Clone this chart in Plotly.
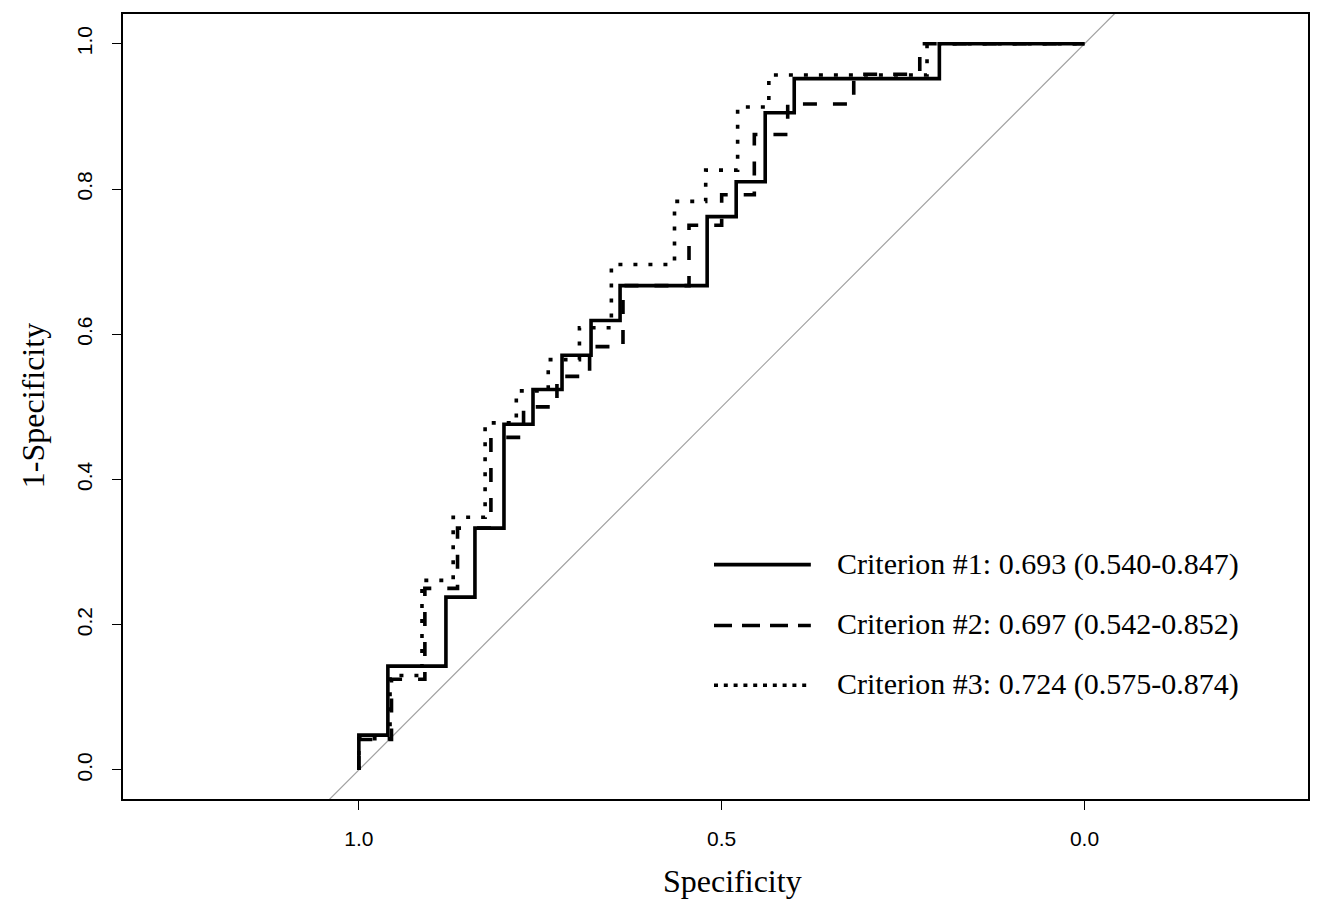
import plotly.graph_objects as go

# ROC step vertices (specificity, sensitivity)
spec_1 = [1.0, 1.0, 0.96, 0.88, 0.84, 0.80, 0.76, 0.72, 0.68, 0.64, 0.52, 0.48, 0.44, 0.40, 0.20, 0.0]
sens_1 = [0.0, 0.048, 0.143, 0.238, 0.333, 0.476, 0.524, 0.571, 0.619, 0.667, 0.762, 0.810, 0.905, 0.952, 1.0, 1.0]

spec_2 = [1.0, 1.0, 0.955, 0.909, 0.864, 0.818, 0.773, 0.727, 0.682, 0.636, 0.545, 0.500, 0.455, 0.409, 0.318, 0.227, 0.0]
sens_2 = [0.0, 0.042, 0.125, 0.250, 0.333, 0.458, 0.500, 0.542, 0.583, 0.667, 0.750, 0.792, 0.875, 0.917, 0.958, 1.0, 1.0]

spec_3 = [1.0, 1.0, 0.957, 0.913, 0.870, 0.826, 0.783, 0.739, 0.696, 0.652, 0.565, 0.522, 0.478, 0.435, 0.217, 0.0]
sens_3 = [0.0, 0.043, 0.130, 0.261, 0.348, 0.478, 0.522, 0.565, 0.609, 0.696, 0.783, 0.826, 0.913, 0.957, 1.0, 1.0]

legend_labels = [
    "Criterion #1: 0.693 (0.540-0.847)",
    "Criterion #2: 0.697 (0.542-0.852)",
    "Criterion #3: 0.724 (0.575-0.874)",
]

x_ticks = [1.0, 0.5, 0.0]
x_tick_text = ["1.0", "0.5", "0.0"]
y_ticks = [0.0, 0.2, 0.4, 0.6, 0.8, 1.0]
y_tick_text = ["0.0", "0.2", "0.4", "0.6", "0.8", "1.0"]

X_RANGE = [1.325, -0.308]
Y_RANGE = [-0.040, 1.041]

fig = go.Figure()

# chance diagonal (sensitivity = 1 - specificity), extended across the panel
diag_x = [X_RANGE[0] + 0.1, X_RANGE[1] - 0.1]
diag_y = [1 - v for v in diag_x]
fig.add_trace(go.Scatter(x=diag_x, y=diag_y, mode="lines",
                         line=dict(color="#a0a0a0", width=1.2),
                         hoverinfo="skip", showlegend=False))

styles = [
    dict(color="black", width=3.6, dash="solid"),
    dict(color="black", width=3.6, dash="14px,16px"),
    dict(color="black", width=3.6, dash="4px,11px"),
]
for sx, sy, st, name in zip([spec_1, spec_2, spec_3], [sens_1, sens_2, sens_3], styles, legend_labels):
    fig.add_trace(go.Scatter(x=sx, y=sy, mode="lines", line=st, line_shape="hv",
                             name=name, showlegend=False))

# manual legend (R-style)
L, R, T, B = 123, 1310, 12, 799
W, H = R - L, B - T
def px(xp):
    return (xp - L) / W
def py(yp):
    return (B - yp) / H

leg_styles = [
    dict(color="black", width=3.6, dash="solid"),
    dict(color="black", width=3.6, dash="18px,10px"),
    dict(color="black", width=3.6, dash="4px,5.8px"),
]
leg_y = [564, 625, 685]
for lab, st, yy in zip(legend_labels, leg_styles, leg_y):
    fig.add_shape(type="line", xref="paper", yref="paper",
                  x0=px(715), x1=px(812), y0=py(yy), y1=py(yy), line=st)
    fig.add_annotation(xref="paper", yref="paper", x=px(836), y=py(yy - 1),
                       text=lab, showarrow=False, xanchor="left", yanchor="middle",
                       font=dict(family="Liberation Serif", size=30, color="black"))

# axis titles
fig.add_annotation(xref="paper", yref="paper", x=px(734), y=py(881), text="Specificity",
                   showarrow=False, xanchor="center", yanchor="middle",
                   font=dict(family="Liberation Serif", size=32, color="black"))
fig.add_annotation(xref="paper", yref="paper", x=px(33), y=py(405), text="1-Specificity",
                   showarrow=False, xanchor="center", yanchor="middle", textangle=-90,
                   font=dict(family="Liberation Serif", size=32, color="black"))

axis_common = dict(showgrid=False, zeroline=False, showline=True, linecolor="black",
                   linewidth=1.5, mirror=True, ticks="outside", ticklen=9, tickwidth=1.2,
                   tickcolor="black",
                   tickfont=dict(family="Liberation Sans", size=21, color="black"))

fig.update_layout(
    width=1322, height=899,
    margin=dict(l=L, r=1322 - R, t=T, b=899 - B),
    paper_bgcolor="white", plot_bgcolor="white",
    xaxis=dict(range=X_RANGE, tickvals=x_ticks, ticktext=x_tick_text,
               ticklabelstandoff=11, **axis_common),
    yaxis=dict(range=Y_RANGE, tickvals=y_ticks, ticktext=y_tick_text, tickangle=-90,
               ticklabelstandoff=12, **axis_common),
    showlegend=False,
)

fig.write_html("out.html", config={"displayModeBar": False},
               post_script="document.body.style.margin='0';")
